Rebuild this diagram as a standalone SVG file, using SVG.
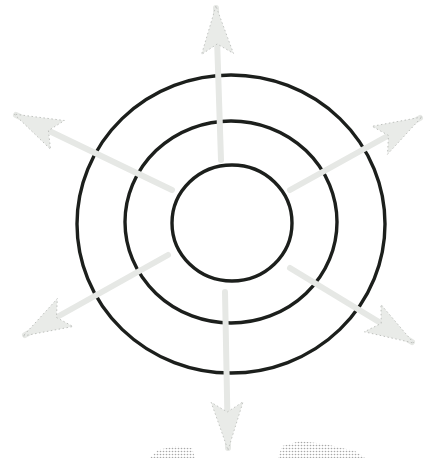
<svg xmlns="http://www.w3.org/2000/svg" width="425" height="458" viewBox="0 0 425 458">
<style>
.ring{fill:none;stroke:#1c1f1c;stroke-width:3.4}
.shaft{stroke:#e6e8e5;stroke-width:6;stroke-linecap:round;fill:none}
.head{fill:#e9ebe8;stroke:#b8bab7;stroke-width:0.8;stroke-dasharray:1.5 2.5}
.dots{fill:url(#halftone)}
</style>
<defs>
<marker id="ah" markerUnits="userSpaceOnUse" viewBox="-52 -22 57 44" refX="0" refY="0" markerWidth="57" markerHeight="44" orient="auto">
<path class="head" d="M2,0 L-46,-16 L-36,0 L-46,16 Z"/>
</marker>
<pattern id="halftone" width="3" height="3" patternUnits="userSpaceOnUse">
<rect width="3" height="3" fill="#fff"/>
<circle cx="1.5" cy="1.5" r="0.8" fill="#a8a8a8"/>
</pattern>
</defs>
<rect width="425" height="458" fill="#fff"/>
<g id="ring-outer"><ellipse class="ring" cx="231" cy="224" rx="154" ry="149"/></g>
<g id="ring-middle"><ellipse class="ring" cx="231" cy="222" rx="106" ry="101"/></g>
<g id="ring-inner"><ellipse class="ring" cx="232" cy="223" rx="60" ry="58"/></g>
<g id="connectors">
<line class="shaft" x1="221" y1="160" x2="216" y2="8" marker-end="url(#ah)"/>
<line class="shaft" x1="225" y1="292" x2="228" y2="448" marker-end="url(#ah)"/>
<line class="shaft" x1="172" y1="190" x2="16" y2="115" marker-end="url(#ah)"/>
<line class="shaft" x1="290" y1="190" x2="420" y2="118" marker-end="url(#ah)"/>
<line class="shaft" x1="168" y1="255" x2="25" y2="335" marker-end="url(#ah)"/>
<line class="shaft" x1="290" y1="268" x2="412" y2="342" marker-end="url(#ah)"/>
</g>
<g id="scan-patches">
<path class="dots" d="M150,458 L158,450 L175,446 L192,448 L195,458 Z"/>
<path class="dots" d="M278,458 L282,446 L300,441 L325,444 L355,451 L365,458 Z"/>
</g>
</svg>
